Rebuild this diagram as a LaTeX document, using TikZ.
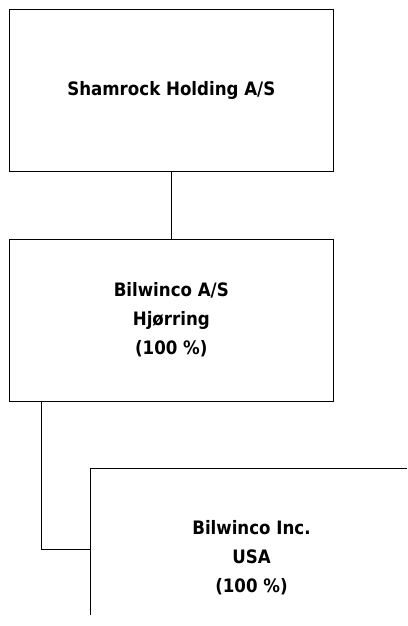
\documentclass[tikz,border=0pt]{standalone}
\usepackage{fontspec}
\setmainfont{DejaVu Sans Condensed}
\begin{document}
\begin{tikzpicture}[x=1bp,y=-1bp,line width=1bp,
  txt/.style={font=\fontsize{18.5bp}{29bp}\selectfont\bfseries},
  box/.style={draw,rectangle,minimum width=324bp,minimum height=162bp,inner sep=0pt,align=center,txt},
  lbl/.style={align=center,inner sep=0pt,txt},
  conn/.style={draw,black,line width=1bp}]
\useasboundingbox (0,0) rectangle (407,626);
\node[box] (top) at (171.3,90.3) {Shamrock Holding A/S};
\node[box] (mid) at (171.3,320) {Bilwinco A/S\\Hj\o rring\\(100 \%)};
\coordinate (tl) at (90.3,468.7);
\coordinate (tr) at (407,468.7);
\coordinate (tb) at (90.3,615);
\draw (tr) -- (tl) -- (tb);
\node[lbl] (inc) at (251.5,558) {Bilwinco Inc.\\USA\\(100 \%)};
\coordinate (join) at (90.3,549.7);
\coordinate (down) at ([xshift=-129.6bp]mid.south);
\path[conn] (top) -- (mid);
\path[conn] (down) |- (join);
\end{tikzpicture}
\end{document}
